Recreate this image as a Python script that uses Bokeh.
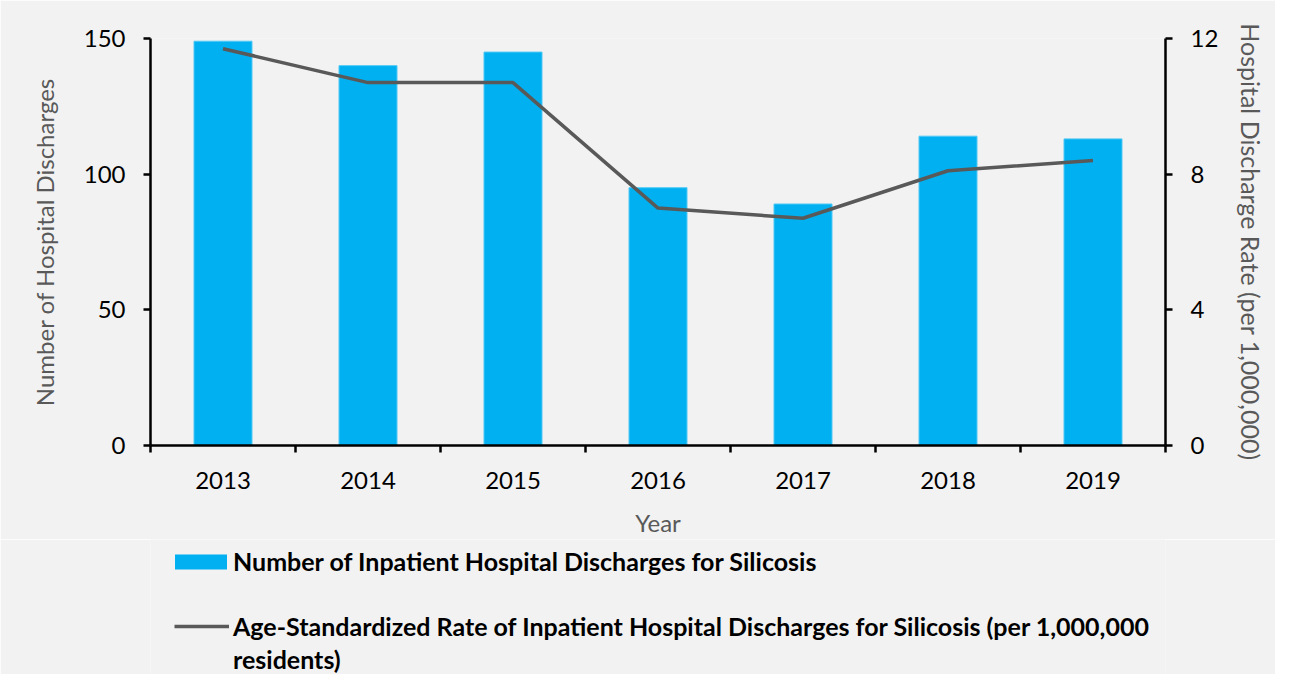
from bokeh.plotting import figure
from bokeh.models import (Range1d, LinearAxis, FixedTicker, Legend, LegendItem)
from bokeh.layouts import column
from bokeh.embed import file_html
from bokeh.resources import INLINE

years = ["2013", "2014", "2015", "2016", "2017", "2018", "2019"]
discharges = [149, 140, 145, 95, 89, 114, 113]
rate = [11.7, 10.7, 10.7, 7.0, 6.7, 8.1, 8.4]
left_ticks = [0, 50, 100, 150]
right_ticks = [0, 4, 8, 12]

bar_label = "Number of Inpatient Hospital Discharges for Silicosis"
line_label_1 = "Age-Standardized Rate of Inpatient Hospital Discharges for Silicosis (per 1,000,000"
line_label_2 = "residents)"

FONT = "Lato"
BG = "#f2f2f2"
AXIS_GRAY = "#595959"
BAR_COLOR = "#00B0F0"
BAR_EDGE = "#4fc8f5"
LINE_COLOR = "#595959"

xpos = [i + 0.5 for i in range(len(years))]

p = figure(frame_width=1015, frame_height=407, output_backend="svg", toolbar_location=None,
           x_range=Range1d(0, len(years)), y_range=Range1d(0, 150),
           min_border_left=150, min_border_right=110, min_border_top=38, min_border_bottom=0,
           background_fill_color=BG, border_fill_color=BG, outline_line_color=None)
p.grid.visible = False

p.extra_y_ranges = {"rate": Range1d(0, 12)}

bars = p.vbar(x=xpos, top=discharges, width=0.4, fill_color=BAR_COLOR, line_color=BAR_EDGE, line_width=1)
ln = p.line(x=xpos, y=rate, y_range_name="rate", line_color=LINE_COLOR, line_width=3.5)

def style_axis(ax):
    ax.axis_line_color = "black"
    ax.axis_line_width = 2.5
    ax.major_tick_line_color = "black"
    ax.major_tick_line_width = 2.5
    ax.minor_tick_line_color = None
    ax.major_label_text_font = FONT
    ax.major_label_text_font_size = "24px"
    ax.major_label_text_color = "black"
    ax.axis_label_text_font = FONT
    ax.axis_label_text_font_size = "24px"
    ax.axis_label_text_font_style = "normal"
    ax.axis_label_text_color = AXIS_GRAY

# x axis
xa = p.xaxis[0]
xa.ticker = FixedTicker(ticks=xpos, minor_ticks=list(range(len(years) + 1)))
xa.major_label_overrides = {x: y for x, y in zip(xpos, years)}
style_axis(xa)
xa.major_tick_line_color = None
xa.major_tick_out = 7
xa.minor_tick_line_color = "black"
xa.minor_tick_line_width = 2.5
xa.minor_tick_out = 7
xa.minor_tick_in = 0
xa.major_label_standoff = 19
xa.axis_label = "Year"
xa.axis_label_standoff = 16

# left axis
ya = p.yaxis[0]
ya.ticker = FixedTicker(ticks=left_ticks)
style_axis(ya)
ya.major_tick_out = 7
ya.major_tick_in = 0
ya.major_label_standoff = 18
ya.axis_label = "Number of Hospital Discharges"
ya.axis_label_standoff = 22

# right axis
ra = LinearAxis(y_range_name="rate", ticker=FixedTicker(ticks=right_ticks))
style_axis(ra)
ra.axis_label_text_font_size = "25px"
ra.major_tick_out = 7
ra.major_tick_in = 0
ra.major_label_standoff = 18
ra.axis_label = "Hospital Discharge Rate (per 1,000,000)"
ra.axis_label_standoff = 15
p.add_layout(ra, "right")

# legend panel (separate figure below the chart)
nan = float("nan")
lg = figure(width=1275, height=135, output_backend="svg", toolbar_location=None,
            x_axis_type=None, y_axis_type=None,
            min_border_left=150, min_border_right=110, min_border_top=0, min_border_bottom=0,
            background_fill_color=BG, border_fill_color=BG, outline_line_color=None)
lg.grid.visible = False
lb = lg.vbar(x=[nan], top=[nan], width=0.4, fill_color=BAR_COLOR, line_color=None)
ll = lg.line(x=[nan], y=[nan], line_color=LINE_COLOR, line_width=3.5)
lnone = lg.line(x=[nan], y=[nan], line_alpha=0)

common = dict(orientation="vertical", padding=0, margin=0, border_line_color=None,
              background_fill_alpha=0, label_text_font=FONT, label_text_font_size="25px",
              label_text_font_style="bold", label_text_color="black")
leg1 = Legend(items=[LegendItem(label=bar_label, renderers=[lb])],
              location=(18, 98), glyph_width=65, glyph_height=19, label_standoff=0, **common)
leg2 = Legend(items=[LegendItem(label=line_label_1, renderers=[ll]),
                     LegendItem(label=line_label_2, renderers=[lnone])],
              location=(24, 0), glyph_width=55, glyph_height=16, label_standoff=4,
              spacing=3, **common)
lg.add_layout(leg1, "center")
lg.add_layout(leg2, "center")

open("out.html", "w").write(file_html(column(p, lg, spacing=0), INLINE))
